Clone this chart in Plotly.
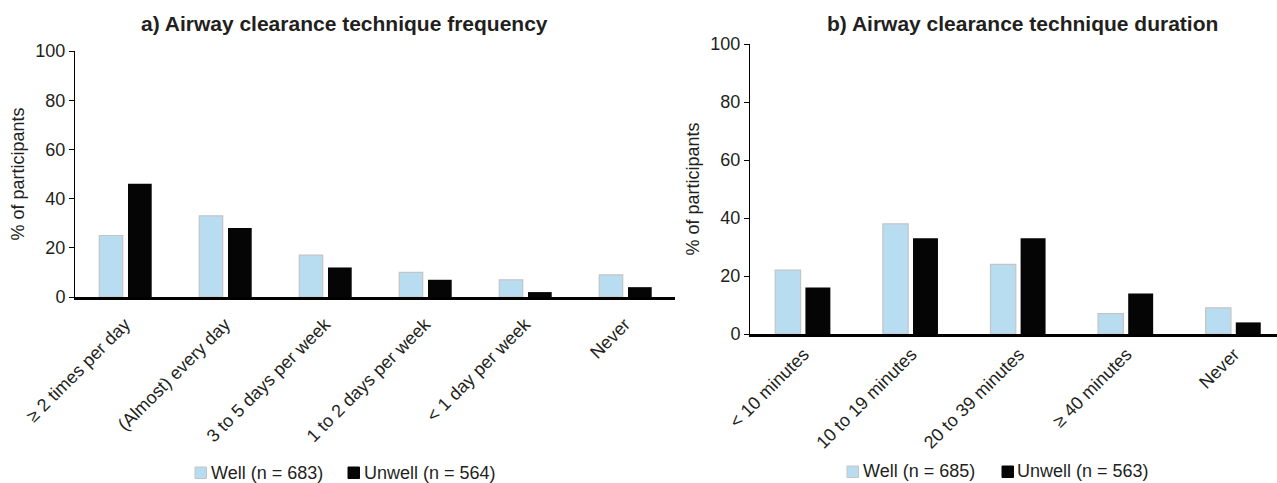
import plotly.graph_objects as go

freq_categories = ["≥ 2 times per day", "(Almost) every day", "3 to 5 days per week",
                   "1 to 2 days per week", "< 1 day per week", "Never"]
freq_well = [25, 33, 17, 10, 7, 9]
freq_unwell = [46, 28, 12, 7, 2, 4]

dur_categories = ["< 10 minutes", "10 to 19 minutes", "20 to 39 minutes", "≥ 40 minutes", "Never"]
dur_well = [22, 38, 24, 7, 9]
dur_unwell = [16, 33, 33, 14, 4]

y_ticks = [0, 20, 40, 60, 80, 100]

freq_names = ["Well (n = 683)", "Unwell (n = 564)"]
dur_names = ["Well (n = 685)", "Unwell (n = 563)"]

WELL_FILL = "#b8dcf0"
WELL_LINE = "#c4c4c4"
UNWELL_FILL = "#050505"
TXT = "#231f20"
FONT = "Liberation Sans, Arial, sans-serif"

fig = go.Figure()

fig.add_trace(go.Bar(x=freq_categories, y=freq_well, name=freq_names[0],
                     marker=dict(color=WELL_FILL, line=dict(color=WELL_LINE, width=1.2)),
                     width=0.234, offset=-0.257, xaxis="x", yaxis="y"))
fig.add_trace(go.Bar(x=freq_categories, y=freq_unwell, name=freq_names[1],
                     marker=dict(color=UNWELL_FILL, line=dict(color="#000", width=0)),
                     width=0.237, offset=0.03, xaxis="x", yaxis="y"))

fig.add_trace(go.Bar(x=dur_categories, y=dur_well, name=dur_names[0],
                     marker=dict(color=WELL_FILL, line=dict(color=WELL_LINE, width=1.2)),
                     width=0.235, offset=-0.265, xaxis="x2", yaxis="y2"))
fig.add_trace(go.Bar(x=dur_categories, y=dur_unwell, name=dur_names[1],
                     marker=dict(color=UNWELL_FILL, line=dict(color="#000", width=0)),
                     width=0.232, offset=0.015, xaxis="x2", yaxis="y2"))

W, H = 1277, 483

xcommon = dict(type="category", showline=True, linecolor="#000", linewidth=2.5,
               ticks="", tickangle=-45, tickfont=dict(family=FONT, size=18, color=TXT),
               showgrid=False, zeroline=False, automargin=False)
ycommon = dict(range=[0, 100], tickvals=y_ticks, showline=True, linecolor="#000", linewidth=1,
               ticks="outside", ticklen=5, tickcolor="#000", tickwidth=1,
               tickfont=dict(family=FONT, size=18, color=TXT), showgrid=False, zeroline=False,
               automargin=False,
               title=dict(text="% of participants", font=dict(family=FONT, size=18, color=TXT),
                          standoff=6))

# legend drawn as squares + text (placed below each panel)
legend_items = [
    # (square x-left px, square y-top px, text x px, text y-center px, fill, line, label)
    (195, 467, 209, 473, WELL_FILL, WELL_LINE, freq_names[0]),
    (348, 467, 362, 473, UNWELL_FILL, UNWELL_FILL, freq_names[1]),
    (847, 466, 861, 471, WELL_FILL, WELL_LINE, dur_names[0]),
    (1002, 466, 1015, 471, UNWELL_FILL, UNWELL_FILL, dur_names[1]),
]
shapes = []
annotations = [
    dict(text="<b>a) Airway clearance technique frequency</b>", x=344 / W, y=1 - 24 / H,
         xref="paper", yref="paper", showarrow=False, xanchor="center", yanchor="middle",
         font=dict(family=FONT, size=21, color=TXT)),
    dict(text="<b>b) Airway clearance technique duration</b>", x=1022 / W, y=1 - 24 / H,
         xref="paper", yref="paper", showarrow=False, xanchor="center", yanchor="middle",
         font=dict(family=FONT, size=21, color=TXT)),
]
for sx, sy, tx, ty, fill, line, label in legend_items:
    shapes.append(dict(type="rect", xref="paper", yref="paper",
                       x0=sx / W, x1=(sx + 11.5) / W, y0=1 - (sy + 11.5) / H, y1=1 - sy / H,
                       fillcolor=fill, line=dict(color=line, width=1)))
    annotations.append(dict(text=label, x=tx / W, y=1 - ty / H, xref="paper", yref="paper",
                            showarrow=False, xanchor="left", yanchor="middle",
                            font=dict(family=FONT, size=18, color=TXT)))

fig.update_layout(
    width=W, height=H,
    margin=dict(l=0, r=0, t=0, b=0),
    paper_bgcolor="white", plot_bgcolor="white",
    barmode="overlay",
    showlegend=False,
    font=dict(family=FONT, color=TXT),
    xaxis=dict(xcommon, domain=[75 / W, 675 / W], anchor="y", range=[-0.5, 5.5],
               ticklabelstandoff=7),
    yaxis=dict(ycommon, domain=[1 - 297 / H, 1 - 51 / H], anchor="x"),
    xaxis2=dict(xcommon, domain=[750 / W, 1.0], anchor="y2", range=[-0.5, 4.398]),
    yaxis2=dict(ycommon, domain=[1 - 334 / H, 1 - 44 / H], anchor="x2"),
    shapes=shapes,
    annotations=annotations,
)

fig.write_html("out.html")
